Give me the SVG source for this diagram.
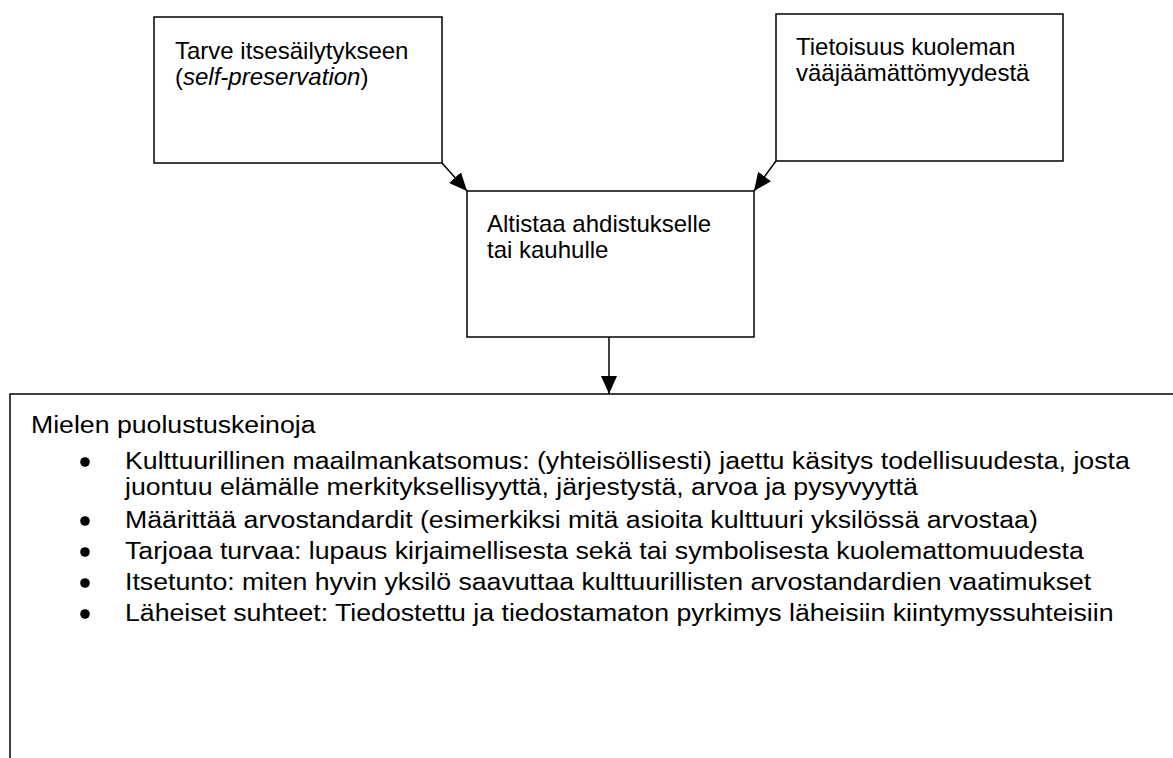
<svg xmlns="http://www.w3.org/2000/svg" width="1173" height="758" viewBox="0 0 1173 758">
<style>
.box{fill:#fff;stroke:#000;stroke-width:1.5}
.t{font-family:"Liberation Sans",Arial,sans-serif;font-size:24px;fill:#000}
.s{font-family:"Liberation Sans",Arial,sans-serif;font-size:23px;fill:#000}
.dot{fill:#000}
.c{stroke:#000;stroke-width:1.5;fill:none}
</style>
<defs>
<marker id="ah" markerUnits="userSpaceOnUse" markerWidth="20" markerHeight="16" refX="18" refY="8" orient="auto">
<path d="M0,0 L18,8 L0,16 Z" fill="#000"/>
</marker>
</defs>
<rect width="1173" height="758" fill="#fff"/>
<g id="node-bottom">
<rect class="box" x="10" y="394" width="1200" height="420"/>
<g transform="scale(1.16,1)">
<text class="s" x="26.7" y="433">Mielen puolustuskeinoja</text>
<text class="s" x="107.8" y="469">Kulttuurillinen maailmankatsomus: (yhteisöllisesti) jaettu käsitys todellisuudesta, josta</text>
<text class="s" x="107.8" y="495">juontuu elämälle merkityksellisyyttä, järjestystä, arvoa ja pysyvyyttä</text>
<text class="s" x="107.8" y="528">Määrittää arvostandardit (esimerkiksi mitä asioita kulttuuri yksilössä arvostaa)</text>
<text class="s" x="107.8" y="559">Tarjoaa turvaa: lupaus kirjaimellisesta sekä tai symbolisesta kuolemattomuudesta</text>
<text class="s" x="107.8" y="590">Itsetunto: miten hyvin yksilö saavuttaa kulttuurillisten arvostandardien vaatimukset</text>
<text class="s" x="107.8" y="621">Läheiset suhteet: Tiedostettu ja tiedostamaton pyrkimys läheisiin kiintymyssuhteisiin</text>
</g>
<circle class="dot" cx="85" cy="462" r="4.8"/>
<circle class="dot" cx="85" cy="521" r="4.8"/>
<circle class="dot" cx="85" cy="552" r="4.8"/>
<circle class="dot" cx="85" cy="583" r="4.8"/>
<circle class="dot" cx="85" cy="614" r="4.8"/>
</g>
<g id="node-self">
<rect class="box" x="154" y="17" width="288" height="146"/>
<text class="t" x="175" y="59">Tarve itsesäilytykseen</text>
<text class="t" x="175" y="85">(<tspan font-style="italic">self-preservation</tspan>)</text>
</g>
<g id="node-death">
<rect class="box" x="776" y="14" width="287" height="147"/>
<text class="t" x="796" y="55">Tietoisuus kuoleman</text>
<text class="t" x="796" y="81">vääjäämättömyydestä</text>
</g>
<g id="node-anxiety">
<rect class="box" x="467" y="191" width="287" height="146"/>
<text class="t" x="487" y="232">Altistaa ahdistukselle</text>
<text class="t" x="487" y="258">tai kauhulle</text>
</g>
<g id="connectors">
<line class="c" x1="442" y1="163" x2="467" y2="191" marker-end="url(#ah)"/>
<line class="c" x1="776" y1="161" x2="754" y2="191" marker-end="url(#ah)"/>
<line class="c" x1="609" y1="337" x2="609" y2="394" marker-end="url(#ah)"/>
</g>
</svg>
